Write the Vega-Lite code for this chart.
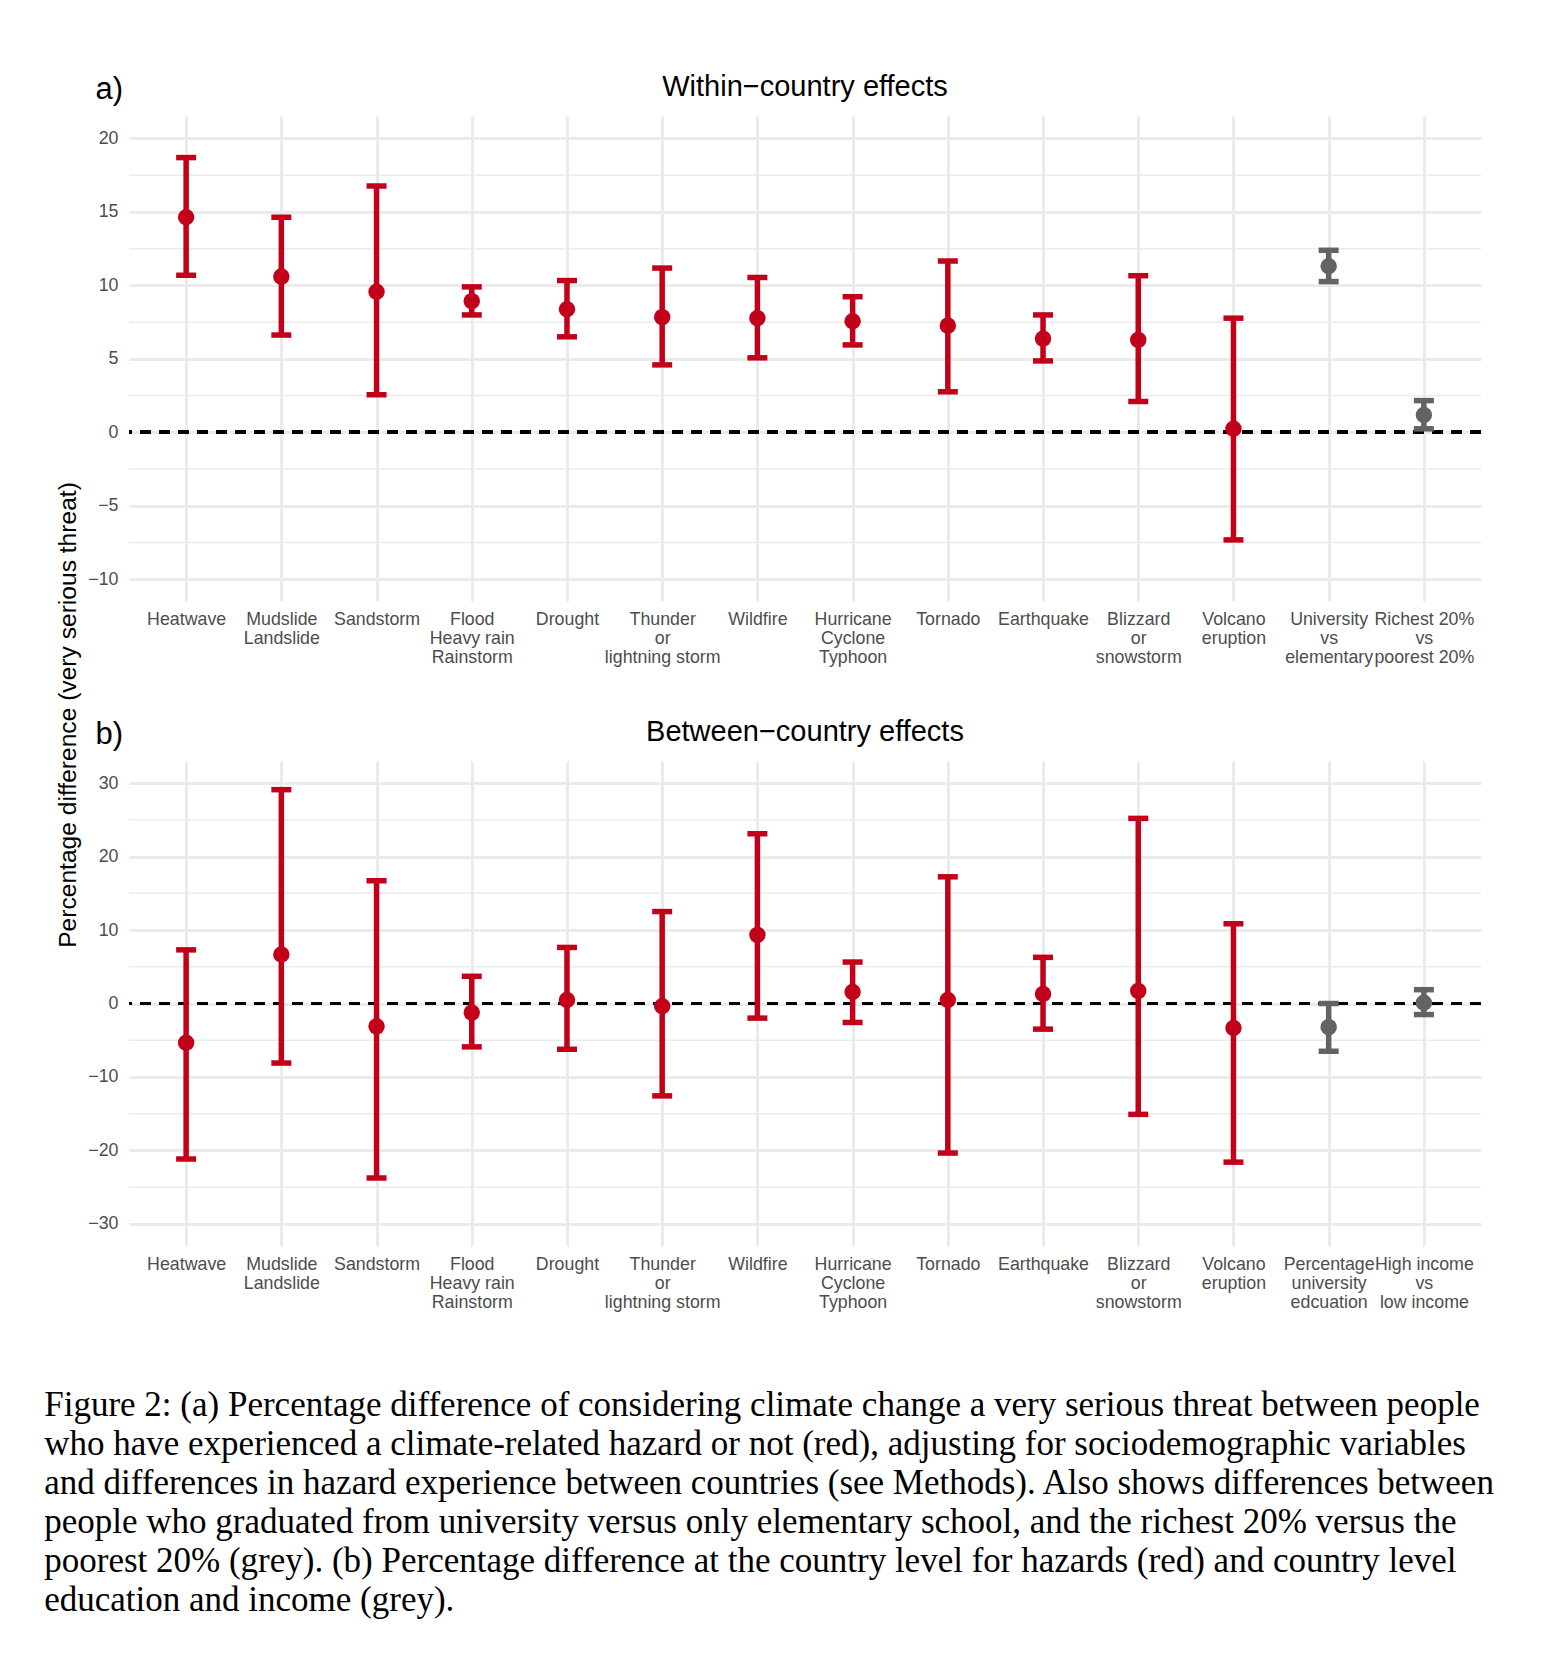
{
  "$schema": "https://vega.github.io/schema/vega-lite/v6.json",
  "background": "white",
  "padding": {"left": 44, "top": 72, "right": 20, "bottom": 10},
  "autosize": {"type": "pad"},
  "config": {
    "view": {"stroke": null},
    "font": "Liberation Sans",
    "axis": {
      "domain": false,
      "ticks": false,
      "labelFont": "Liberation Sans",
      "labelFontSize": 17.8,
      "labelColor": "#4D4D4D",
      "gridColor": "#EBEBEB",
      "gridWidth": 3
    }
  },
  "datasets": {
    "within": [
      {"cat": "Heatwave", "est": 14.64, "lo": 10.69, "hi": 18.7, "grp": "hazard"},
      {"cat": "Mudslide|Landslide", "est": 10.6, "lo": 6.62, "hi": 14.64, "grp": "hazard"},
      {"cat": "Sandstorm", "est": 9.57, "lo": 2.55, "hi": 16.76, "grp": "hazard"},
      {"cat": "Flood|Heavy rain|Rainstorm", "est": 8.93, "lo": 7.99, "hi": 9.9, "grp": "hazard"},
      {"cat": "Drought", "est": 8.38, "lo": 6.5, "hi": 10.33, "grp": "hazard"},
      {"cat": "Thunder|or|lightning storm", "est": 7.84, "lo": 4.59, "hi": 11.18, "grp": "hazard"},
      {"cat": "Wildfire", "est": 7.77, "lo": 5.07, "hi": 10.54, "grp": "hazard"},
      {"cat": "Hurricane|Cyclone|Typhoon", "est": 7.56, "lo": 5.95, "hi": 9.23, "grp": "hazard"},
      {"cat": "Tornado", "est": 7.26, "lo": 2.76, "hi": 11.66, "grp": "hazard"},
      {"cat": "Earthquake", "est": 6.38, "lo": 4.86, "hi": 7.99, "grp": "hazard"},
      {"cat": "Blizzard|or|snowstorm", "est": 6.29, "lo": 2.1, "hi": 10.66, "grp": "hazard"},
      {"cat": "Volcano|eruption", "est": 0.24, "lo": -7.32, "hi": 7.77, "grp": "hazard"},
      {"cat": "University|vs|elementary", "est": 11.3, "lo": 10.26, "hi": 12.39, "grp": "socio"},
      {"cat": "Richest 20%|vs|poorest 20%", "est": 1.18, "lo": 0.24, "hi": 2.16, "grp": "socio"}
    ],
    "between": [
      {"cat": "Heatwave", "est": -5.35, "lo": -21.16, "hi": 7.3, "grp": "hazard"},
      {"cat": "Mudslide|Landslide", "est": 6.66, "lo": -8.1, "hi": 29.1, "grp": "hazard"},
      {"cat": "Sandstorm", "est": -3.11, "lo": -23.74, "hi": 16.7, "grp": "hazard"},
      {"cat": "Flood|Heavy rain|Rainstorm", "est": -1.24, "lo": -5.9, "hi": 3.7, "grp": "hazard"},
      {"cat": "Drought", "est": 0.48, "lo": -6.23, "hi": 7.63, "grp": "hazard"},
      {"cat": "Thunder|or|lightning storm", "est": -0.38, "lo": -12.57, "hi": 12.51, "grp": "hazard"},
      {"cat": "Wildfire", "est": 9.34, "lo": -1.99, "hi": 23.1, "grp": "hazard"},
      {"cat": "Hurricane|Cyclone|Typhoon", "est": 1.56, "lo": -2.58, "hi": 5.64, "grp": "hazard"},
      {"cat": "Tornado", "est": 0.48, "lo": -20.35, "hi": 17.24, "grp": "hazard"},
      {"cat": "Earthquake", "est": 1.29, "lo": -3.49, "hi": 6.28, "grp": "hazard"},
      {"cat": "Blizzard|or|snowstorm", "est": 1.72, "lo": -15.09, "hi": 25.19, "grp": "hazard"},
      {"cat": "Volcano|eruption", "est": -3.33, "lo": -21.59, "hi": 10.85, "grp": "hazard"},
      {"cat": "Percentage|university|edcuation", "est": -3.22, "lo": -6.5, "hi": 0.0, "grp": "socio"},
      {"cat": "High income|vs|low income", "est": 0.1, "lo": -1.5, "hi": 1.88, "grp": "socio"}
    ],
    "minorA": [{"m": -7.5}, {"m": -2.5}, {"m": 2.5}, {"m": 7.5}, {"m": 12.5}, {"m": 17.5}],
    "minorB": [{"m": -25}, {"m": -15}, {"m": -5}, {"m": 5}, {"m": 15}, {"m": 25}]
  },
  "title": {
    "text": [
      "Figure 2: (a) Percentage difference of considering climate change a very serious threat between people",
      "who have experienced a climate-related hazard or not (red), adjusting for sociodemographic variables",
      "and differences in hazard experience between countries (see Methods). Also shows differences between",
      "people who graduated from university versus only elementary school, and the richest 20% versus the",
      "poorest 20% (grey). (b) Percentage difference at the country level for hazards (red) and country level",
      "education and income (grey)."
    ],
    "orient": "bottom",
    "anchor": "start",
    "frame": "bounds",
    "font": "Liberation Serif",
    "fontSize": 35,
    "fontWeight": "normal",
    "lineHeight": 39,
    "color": "#000000",
    "offset": 77,
    "dx": -12
  },
  "vconcat": [
    {
      "title": {
        "text": "Percentage difference (very serious threat)",
        "orient": "left",
        "anchor": "middle",
        "frame": "group",
        "font": "Liberation Sans",
        "fontSize": 24.6,
        "fontWeight": "normal",
        "color": "#000000",
        "offset": 6,
        "dx": -599
      },
      "bounds": "flush",
      "spacing": 160,
      "vconcat": [
        {
          "width": 1352,
          "height": 485,
          "title": {
            "text": "Within−country effects",
            "anchor": "middle",
            "frame": "group",
            "font": "Liberation Sans",
            "fontSize": 29,
            "fontWeight": "normal",
            "color": "#000000",
            "offset": 10,
            "dy": 38
          },
          "data": {"name": "within"},
          "encoding": {
            "x": {
              "field": "cat", "type": "nominal", "sort": null,
              "scale": {"type": "point", "padding": 0.6},
              "axis": {"title": null, "labelExpr": "split(datum.value, '|')", "labelAngle": 0, "labelOverlap": false, "labelPadding": 9.5, "labelLineHeight": 19, "labelLimit": 0, "grid": true}
            }
          },
          "layer": [
            {
              "data": {"name": "minorA"},
              "mark": {"type": "rule", "color": "#EBEBEB", "strokeWidth": 1.5},
              "encoding": {"x": null, "y": {"field": "m", "type": "quantitative"}}
            },
            {
              "mark": {"type": "rule", "color": "#000000", "strokeWidth": 3.2, "strokeDash": [11, 8]},
              "encoding": {"x": null, "y": {"datum": 0, "type": "quantitative"}}
            },
            {
              "mark": {"type": "rule", "strokeWidth": 5.5},
              "encoding": {
                "y": {
                  "field": "lo", "type": "quantitative",
                  "scale": {"domain": [-11.48, 21.53], "nice": false, "zero": false},
                  "axis": {"values": [-10, -5, 0, 5, 10, 15, 20], "grid": true, "labelPadding": 11,
                    "title": "a)", "titleAngle": 0, "titleAlign": "left", "titleBaseline": "alphabetic",
                    "titleX": -34, "titleY": -17.5, "titleFontSize": 31, "titleFontWeight": "normal", "titleColor": "#000000", "titleFont": "Liberation Sans"}
                },
                "y2": {"field": "hi"},
                "color": {"field": "grp", "type": "nominal", "scale": {"domain": ["hazard", "socio"], "range": ["#C2001A", "#636363"]}, "legend": null}
              }
            },
            {
              "mark": {"type": "tick", "orient": "horizontal", "size": 20, "thickness": 5.5, "opacity": 1},
              "encoding": {"y": {"field": "lo", "type": "quantitative"}, "color": {"field": "grp", "type": "nominal", "legend": null}}
            },
            {
              "mark": {"type": "tick", "orient": "horizontal", "size": 20, "thickness": 5.5, "opacity": 1},
              "encoding": {"y": {"field": "hi", "type": "quantitative"}, "color": {"field": "grp", "type": "nominal", "legend": null}}
            },
            {
              "mark": {"type": "circle", "size": 270, "opacity": 1},
              "encoding": {"y": {"field": "est", "type": "quantitative"}, "color": {"field": "grp", "type": "nominal", "legend": null}}
            }
          ]
        },
        {
          "width": 1352,
          "height": 485,
          "title": {
            "text": "Between−country effects",
            "anchor": "middle",
            "frame": "group",
            "font": "Liberation Sans",
            "fontSize": 29,
            "fontWeight": "normal",
            "color": "#000000",
            "offset": 10,
            "dy": 38
          },
          "data": {"name": "between"},
          "encoding": {
            "x": {
              "field": "cat", "type": "nominal", "sort": null,
              "scale": {"type": "point", "padding": 0.6},
              "axis": {"title": null, "labelExpr": "split(datum.value, '|')", "labelAngle": 0, "labelOverlap": false, "labelPadding": 9.5, "labelLineHeight": 19, "labelLimit": 0, "grid": true}
            }
          },
          "layer": [
            {
              "data": {"name": "minorB"},
              "mark": {"type": "rule", "color": "#EBEBEB", "strokeWidth": 1.5},
              "encoding": {"x": null, "y": {"field": "m", "type": "quantitative"}}
            },
            {
              "mark": {"type": "rule", "color": "#000000", "strokeWidth": 3.2, "strokeDash": [11, 8]},
              "encoding": {"x": null, "y": {"datum": 0, "type": "quantitative"}}
            },
            {
              "mark": {"type": "rule", "strokeWidth": 5.5},
              "encoding": {
                "y": {
                  "field": "lo", "type": "quantitative",
                  "scale": {"domain": [-33, 33], "nice": false, "zero": false},
                  "axis": {"values": [-30, -20, -10, 0, 10, 20, 30], "grid": true, "labelPadding": 11,
                    "title": "b)", "titleAngle": 0, "titleAlign": "left", "titleBaseline": "alphabetic",
                    "titleX": -34, "titleY": -17.5, "titleFontSize": 31, "titleFontWeight": "normal", "titleColor": "#000000", "titleFont": "Liberation Sans"}
                },
                "y2": {"field": "hi"},
                "color": {"field": "grp", "type": "nominal", "scale": {"domain": ["hazard", "socio"], "range": ["#C2001A", "#636363"]}, "legend": null}
              }
            },
            {
              "mark": {"type": "tick", "orient": "horizontal", "size": 20, "thickness": 5.5, "opacity": 1},
              "encoding": {"y": {"field": "lo", "type": "quantitative"}, "color": {"field": "grp", "type": "nominal", "legend": null}}
            },
            {
              "mark": {"type": "tick", "orient": "horizontal", "size": 20, "thickness": 5.5, "opacity": 1},
              "encoding": {"y": {"field": "hi", "type": "quantitative"}, "color": {"field": "grp", "type": "nominal", "legend": null}}
            },
            {
              "mark": {"type": "circle", "size": 270, "opacity": 1},
              "encoding": {"y": {"field": "est", "type": "quantitative"}, "color": {"field": "grp", "type": "nominal", "legend": null}}
            }
          ]
        }
      ]
    }
  ]
}
